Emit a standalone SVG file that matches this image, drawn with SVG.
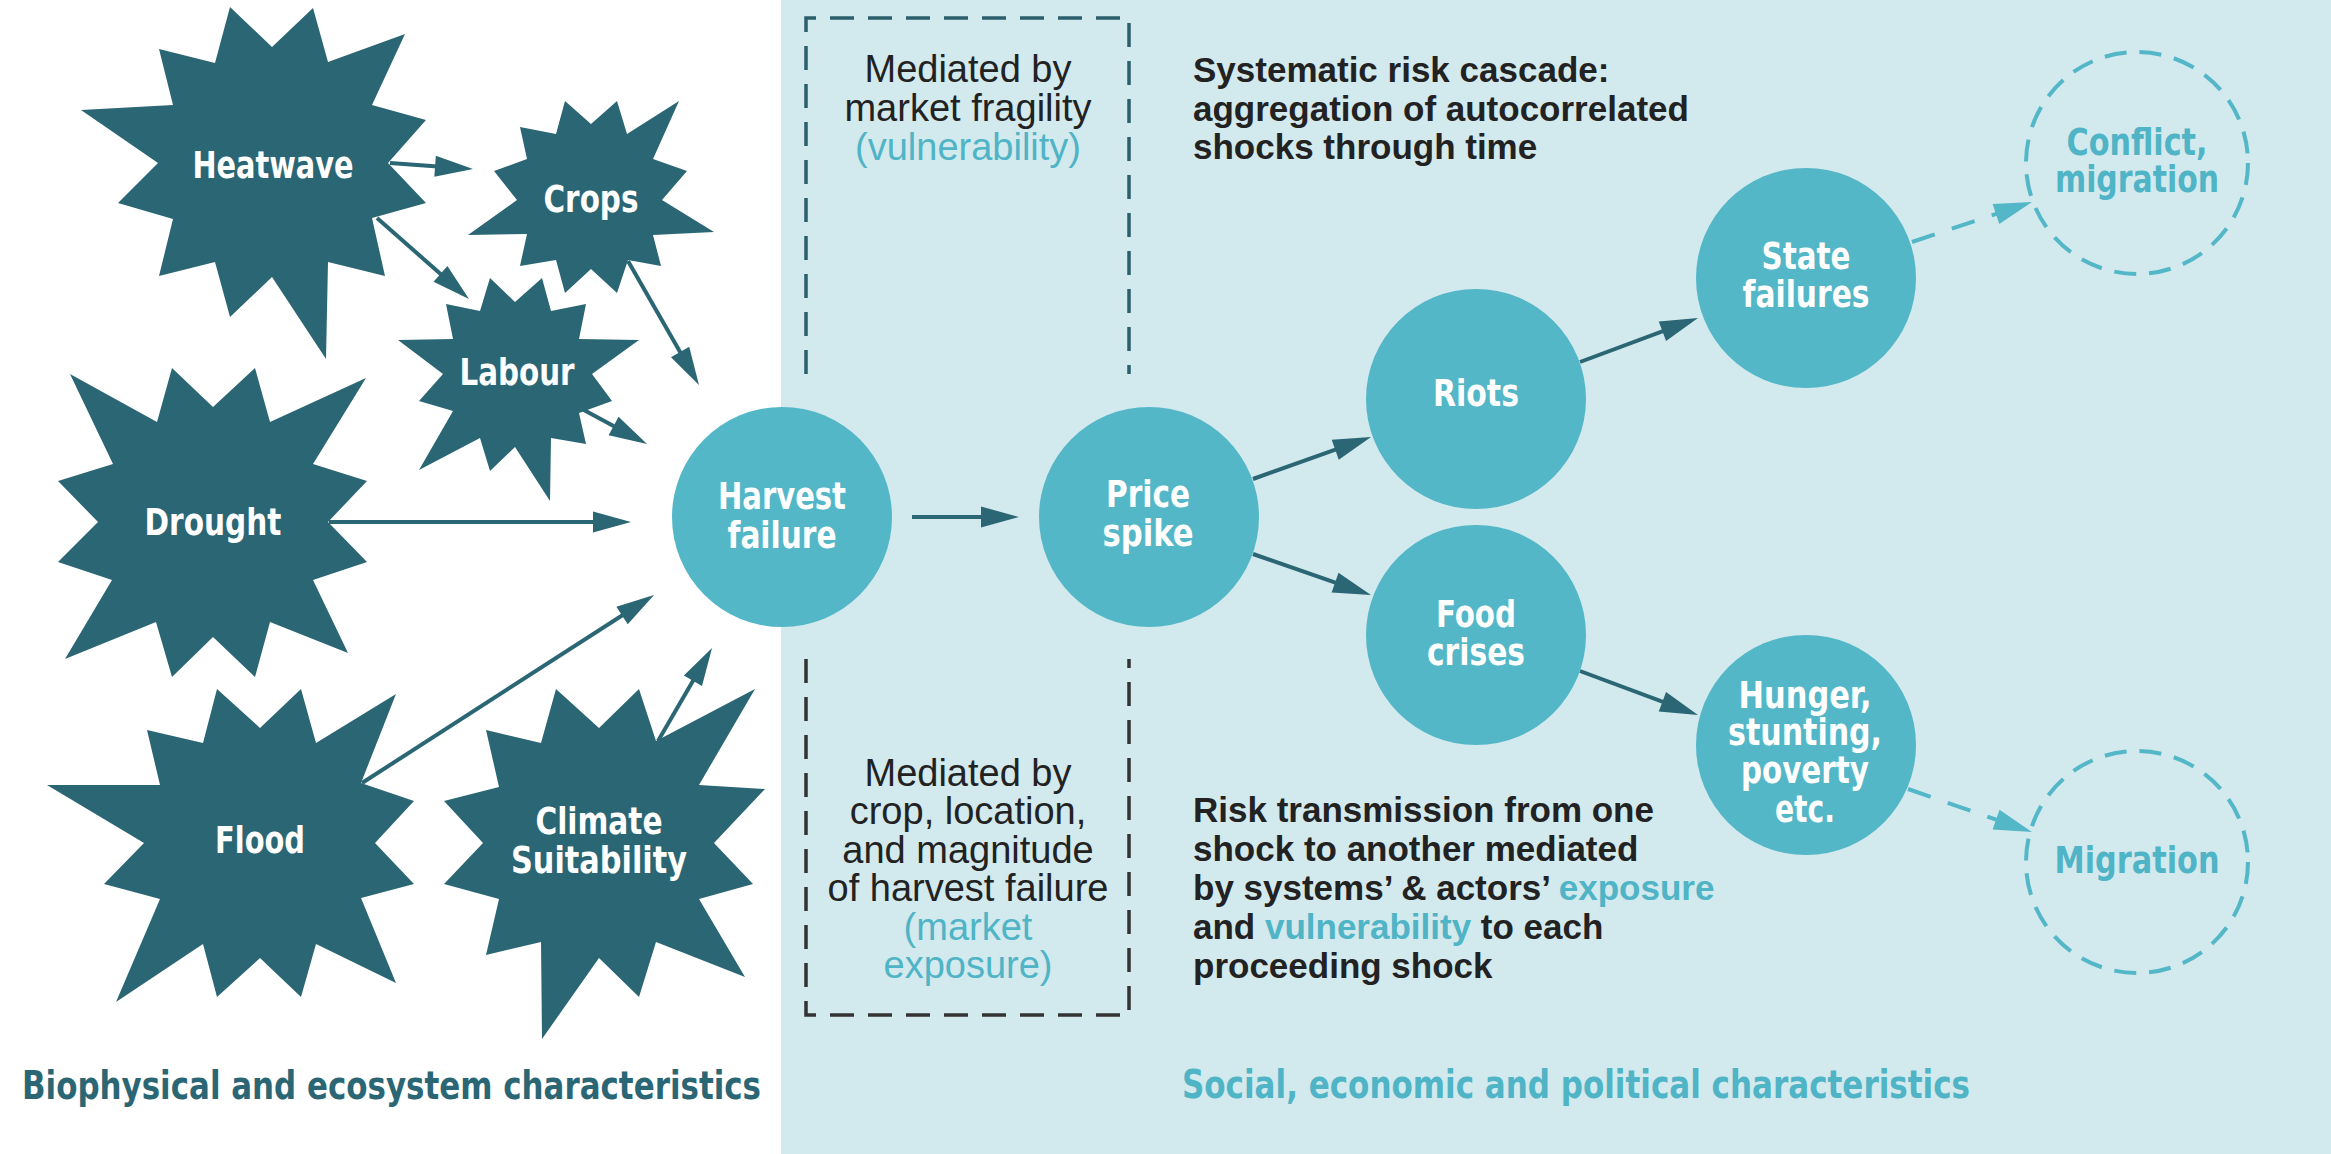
<svg xmlns="http://www.w3.org/2000/svg" width="2331" height="1154" viewBox="0 0 2331 1154">
<defs>
<style>
.star{fill:#2b6674}
.node{fill:#53b7c7}
.dnode{fill:none;stroke:#53b7c7;stroke-width:4;stroke-dasharray:22 13}
.lbl{font-family:"DejaVu Sans Condensed","Liberation Sans",sans-serif;font-weight:bold;font-size:38px;fill:#fff;text-anchor:middle}
.dlbl{fill:#4fb4c5}
.body{font-family:"Liberation Sans",Arial,sans-serif;font-size:38px;fill:#222;text-anchor:middle}
.bold{font-family:"Liberation Sans",Arial,sans-serif;font-size:35px;font-weight:bold;fill:#222}
.hl{fill:#4fb4c5}
.cap{font-family:"DejaVu Sans Condensed","Liberation Sans",sans-serif;font-weight:bold;font-size:39px}
.arr{stroke:#2b6674;stroke-width:4;fill:none;marker-end:url(#ah)}
.darr{stroke:#53b7c7;stroke-width:4;fill:none;stroke-dasharray:24 18;marker-end:url(#ahl)}
.box{fill:none;stroke-width:3.5;stroke-dasharray:24 14}
</style>
<marker id="ah" markerUnits="userSpaceOnUse" markerWidth="40" markerHeight="22" refX="30" refY="10.5" orient="auto" overflow="visible">
<path d="M0,0 L38,10.5 L0,21 z" fill="#2b6674"/>
</marker>
<marker id="ahl" markerUnits="userSpaceOnUse" markerWidth="40" markerHeight="22" refX="30" refY="10.5" orient="auto" overflow="visible">
<path d="M0,0 L38,10.5 L0,21 z" fill="#53b7c7"/>
</marker>
</defs>
<rect x="0" y="0" width="2331" height="1154" fill="#fff"/>
<rect x="781" y="0" width="1550" height="1154" fill="#d2e9ee"/>

<g id="box-top"><path class="box" stroke="#2b5f6c" d="M806,374 V18 H1129 V374"/>
<text class="body"><tspan x="968" y="82">Mediated by</tspan><tspan x="968" y="121">market fragility</tspan><tspan class="hl" x="968" y="160">(vulnerability)</tspan></text></g>
<g id="box-bottom"><path class="box" stroke="#333" d="M806,659 V1015 H1129 V659"/>
<text class="body"><tspan x="968" y="786">Mediated by</tspan><tspan x="968" y="824">crop, location,</tspan><tspan x="968" y="863">and magnitude</tspan><tspan x="968" y="901">of harvest failure</tspan><tspan class="hl" x="968" y="940">(market</tspan><tspan class="hl" x="968" y="978">exposure)</tspan></text></g>

<g id="note-cascade"><text class="bold"><tspan x="1193" y="82">Systematic risk cascade:</tspan><tspan x="1193" y="120.5">aggregation of autocorrelated</tspan><tspan x="1193" y="159">shocks through time</tspan></text></g>
<g id="note-transmission"><text class="bold"><tspan x="1193" y="822">Risk transmission from one</tspan><tspan x="1193" y="861">shock to another mediated</tspan><tspan x="1193" y="900">by systems’ &amp; actors’ <tspan class="hl">exposure</tspan></tspan><tspan x="1193" y="939">and <tspan class="hl">vulnerability</tspan> to each</tspan><tspan x="1193" y="978">proceeding shock</tspan></text></g>

<g id="connectors">
<line class="arr" x1="390" y1="163" x2="465" y2="168.4"/>
<line class="arr" x1="377" y1="218" x2="463" y2="293.7"/>
<line class="arr" x1="628" y1="261" x2="695" y2="378"/>
<line class="arr" x1="582" y1="409" x2="640" y2="440.2"/>
<line class="arr" x1="329" y1="522" x2="623" y2="522"/>
<line class="arr" x1="362" y1="783" x2="647.3" y2="599.3"/>
<line class="arr" x1="658" y1="741" x2="708" y2="654.9"/>
<line class="arr" x1="912" y1="517" x2="1011" y2="517"/>
<line class="arr" x1="1253" y1="479" x2="1363.5" y2="439.7"/>
<line class="arr" x1="1253" y1="554" x2="1363.4" y2="592.4"/>
<line class="arr" x1="1580" y1="362" x2="1690.5" y2="320.8"/>
<line class="arr" x1="1580" y1="671" x2="1690.5" y2="712.2"/>
<line class="darr" x1="1912" y1="242" x2="2024.4" y2="204.5"/>
<line class="darr" x1="1908" y1="789" x2="2024.4" y2="829.4"/>
</g>

<g id="heatwave"><polygon class="star" points="230,7 272,47 313,8 328,62 405,34 372,105 426,120 388,163 426,203 372,218 385,276 328,262 326,359 272,277 230,317 215,262 159,276 173,219 118,203 158,163 81,110 173,105 159,49 215,63"/><text class="lbl" x="273" y="178" textLength="161" lengthAdjust="spacingAndGlyphs">Heatwave</text></g>
<g id="crops"><polygon class="star" points="565,101 591,124 617,101 627,134 679,101 653,159 687,171 662,200 714,232 653,235 661,266 628,260 617,293 591,269 565,293 556,260 520,266 527,234 468,235 517,200 494,171 527,159 520,127 556,134"/><text class="lbl" x="591" y="212" textLength="95" lengthAdjust="spacingAndGlyphs">Crops</text></g>
<g id="labour"><polygon class="star" points="490,278 515,302 542,278 551,311 586,304 579,339 639,340 592,374 612,401 579,413 586,444 551,438 550,501 515,447 490,471 480,438 419,470 453,411 419,401 443,374 398,340 453,339 446,304 480,311"/><text class="lbl" x="517" y="385" textLength="115" lengthAdjust="spacingAndGlyphs">Labour</text></g>
<g id="drought"><polygon class="star" points="70,374 157,422 172,368 213,407 255,368 270,422 366,378 313,464 367,481 328,522 367,562 313,580 348,653 270,622 255,677 213,637 172,677 156,622 65,659 112,580 58,562 98,522 58,481 113,464"/><text class="lbl" x="213" y="535" textLength="137" lengthAdjust="spacingAndGlyphs">Drought</text></g>
<g id="flood"><polygon class="star" points="217,689 260,728 301,689 316,743 396,694 361,783 414,801 375,843 414,884 361,898 396,983 316,944 301,997 260,958 217,997 203,944 116,1002 160,899 104,884 144,843 47,785 160,785 147,730 203,743"/><text class="lbl" x="260" y="853" textLength="90" lengthAdjust="spacingAndGlyphs">Flood</text></g>
<g id="climate"><polygon class="star" points="556,689 599,728 639,689 656,741 755,689 699,785 765,789 714,843 753,884 699,899 745,977 656,942 639,997 599,958 542,1039 541,942 486,955 499,899 444,884 483,843 444,801 499,787 486,730 541,743"/><text class="lbl" x="599" y="834" textLength="127" lengthAdjust="spacingAndGlyphs">Climate</text><text class="lbl" x="599" y="873" textLength="176" lengthAdjust="spacingAndGlyphs">Suitability</text></g>

<g id="harvest"><circle class="node" cx="782" cy="517" r="110"/><text class="lbl" x="782" y="509" textLength="128" lengthAdjust="spacingAndGlyphs">Harvest</text><text class="lbl" x="782" y="548" textLength="109" lengthAdjust="spacingAndGlyphs">failure</text></g>
<g id="price"><circle class="node" cx="1149" cy="517" r="110"/><text class="lbl" x="1148" y="507" textLength="84" lengthAdjust="spacingAndGlyphs">Price</text><text class="lbl" x="1148" y="546" textLength="91" lengthAdjust="spacingAndGlyphs">spike</text></g>
<g id="riots"><circle class="node" cx="1476" cy="399" r="110"/><text class="lbl" x="1476" y="406" textLength="86" lengthAdjust="spacingAndGlyphs">Riots</text></g>
<g id="food"><circle class="node" cx="1476" cy="635" r="110"/><text class="lbl" x="1476" y="627" textLength="80" lengthAdjust="spacingAndGlyphs">Food</text><text class="lbl" x="1476" y="665" textLength="98" lengthAdjust="spacingAndGlyphs">crises</text></g>
<g id="state"><circle class="node" cx="1806" cy="278" r="110"/><text class="lbl" x="1806" y="269" textLength="89" lengthAdjust="spacingAndGlyphs">State</text><text class="lbl" x="1806" y="307" textLength="127" lengthAdjust="spacingAndGlyphs">failures</text></g>
<g id="hunger"><circle class="node" cx="1806" cy="745" r="110"/><text class="lbl" x="1805" y="708" textLength="133" lengthAdjust="spacingAndGlyphs">Hunger,</text><text class="lbl" x="1805" y="745" textLength="154" lengthAdjust="spacingAndGlyphs">stunting,</text><text class="lbl" x="1805" y="783" textLength="128" lengthAdjust="spacingAndGlyphs">poverty</text><text class="lbl" x="1805" y="822" textLength="60" lengthAdjust="spacingAndGlyphs">etc.</text></g>
<g id="conflict"><circle class="dnode" cx="2137" cy="163" r="111"/><text class="lbl dlbl" x="2137" y="155" textLength="141" lengthAdjust="spacingAndGlyphs">Conflict,</text><text class="lbl dlbl" x="2137" y="192" textLength="164" lengthAdjust="spacingAndGlyphs">migration</text></g>
<g id="migration"><circle class="dnode" cx="2137" cy="862" r="111"/><text class="lbl dlbl" x="2137" y="873" textLength="165" lengthAdjust="spacingAndGlyphs">Migration</text></g>

<g id="captions">
<text class="cap" x="22" y="1099" fill="#2b6674" textLength="739" lengthAdjust="spacingAndGlyphs">Biophysical and ecosystem characteristics</text>
<text class="cap" x="1182" y="1098" fill="#4fb4c5" textLength="788" lengthAdjust="spacingAndGlyphs">Social, economic and political characteristics</text>
</g>
</svg>
